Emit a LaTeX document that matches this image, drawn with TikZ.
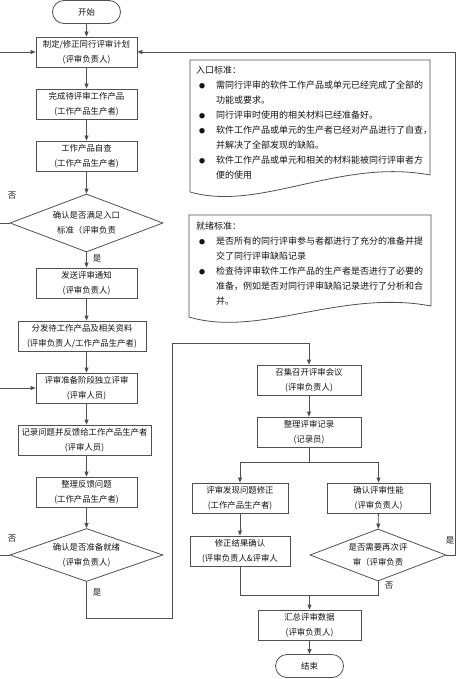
\documentclass[tikz,border=0pt]{standalone}
\usepackage{fontspec}
\newfontfamily\cjk{Noto Sans CJK SC}
\usetikzlibrary{shapes.geometric}
\usetikzlibrary{arrows.meta}

\definecolor{linegray}{RGB}{80,80,80}
\definecolor{textgray}{RGB}{20,20,20}

\newcommand{\notebul}{\hspace*{3pt}\makebox[17pt][l]{\raisebox{0.6pt}{\fontsize{6}{6}\selectfont ●}}}
\newcommand{\noteind}{\hspace*{20pt}}

\tikzset{
  flow/.style={draw=linegray, line width=0.8pt},
  stepbox/.style={draw=linegray, line width=0.8pt, text=textgray, font=\cjk\fontsize{8.4}{15}\selectfont, align=center, inner sep=0pt, minimum height=30pt},
  term/.style={draw=linegray, line width=0.8pt, text=textgray, font=\cjk\fontsize{8.4}{15}\selectfont, rounded corners=11.5pt, minimum width=68pt, minimum height=23pt, inner sep=0pt},
  decision/.style={diamond, shape aspect=3, draw=linegray, line width=0.8pt, text=textgray, font=\cjk\fontsize{8.4}{15}\selectfont, align=center, inner sep=0pt},
  notebox/.style={draw=linegray, line width=0.8pt},
  notetext/.style={text=textgray, font=\cjk\fontsize{9}{15}\selectfont, align=left, inner sep=0pt, anchor=north west},
  lab/.style={text=textgray, font=\cjk\fontsize{8.4}{10}\selectfont, inner sep=0pt},
}

\begin{document}
\begin{tikzpicture}[x=1pt, y=-1pt, >={Triangle[length=5pt, width=4pt]}]

  \clip (0,0) rectangle (474,679);

  % left column
  \node[term] (start) at (86.5,12) {开始};
  \node[stepbox, minimum width=101pt] (plan) at (86.5,52) {制定/修正同行评审计划\\(评审负责人)};
  \node[stepbox, minimum width=101pt] (prepare) at (86.5,104) {完成待评审工作产品\\(工作产品生产者)};
  \node[stepbox, minimum width=101pt] (selfcheck) at (86.5,156) {工作产品自查\\(工作产品生产者)};
  \node[decision, minimum width=153pt, minimum height=58pt] (entry) at (86.5,223) {确认是否满足入口\\标准（评审负责};
  \node[stepbox, minimum width=101pt] (notify) at (86.5,283) {发送评审通知\\(评审负责人)};
  \node[stepbox, minimum width=128pt] (distribute) at (82,336) {分发待工作产品及相关资料\\(评审负责人/工作产品生产者)};
  \node[stepbox, minimum width=101pt] (selfreview) at (86.5,388) {评审准备阶段独立评审\\(评审人员)};
  \node[stepbox, minimum width=133pt] (record) at (84.5,440) {记录问题并反馈给工作产品生产者\\(评审人员)};
  \node[stepbox, minimum width=101pt] (sortout) at (86.5,492) {整理反馈问题\\(工作产品生产者)};
  \node[decision, minimum width=153pt, minimum height=53pt] (ready) at (86.5,555) {确认是否准备就绪\\(评审负责人)};

  % right column
  \node[stepbox, minimum width=104pt] (meeting) at (309,380) {召集召开评审会议\\(评审负责人)};
  \node[stepbox, minimum width=104pt] (minutes) at (309,432) {整理评审记录\\(记录员)};
  \node[stepbox, minimum width=96pt] (fix) at (240,498) {评审发现问题修正\\(工作产品生产者)};
  \node[stepbox, minimum width=103pt] (perf) at (378.5,498) {确认评审性能\\(评审负责人)};
  \node[stepbox, minimum width=100pt] (verify) at (240,551) {修正结果确认\\(评审负责人\&评审人};
  \node[decision, minimum width=136pt, minimum height=52pt] (again) at (378,555) {是否需要再次评\\审（评审负责};
  \node[stepbox, minimum width=103pt] (summary) at (309.5,625) {汇总评审数据\\(评审负责人)};
  \node[term] (finish) at (309.5,666) {结束};

  % entry criteria note
  \draw[notebox] (190,60) -- (430,60) -- (430,175)
    .. controls (340,158) and (260,212) .. (190,192) -- cycle;
  \node[notetext] (entrynote) at (196,66) {入口标准：\\
    \notebul 需同行评审的软件工作产品或单元已经完成了全部的\\
    \noteind 功能或要求。\\
    \notebul 同行评审时使用的相关材料已经准备好。\\
    \notebul 软件工作产品或单元的生产者已经对产品进行了自查，\\
    \noteind 并解决了全部发现的缺陷。\\
    \notebul 软件工作产品或单元和相关的材料能被同行评审者方\\
    \noteind 便的使用};

  % ready criteria note
  \draw[notebox] (189,215) -- (431,215) -- (431,306)
    .. controls (341,289) and (259,338) .. (189,317) -- cycle;
  \node[notetext] (readynote) at (196,222) {就绪标准：\\
    \notebul 是否所有的同行评审参与者都进行了充分的准备并提\\
    \noteind 交了同行评审缺陷记录\\
    \notebul 检查待评审软件工作产品的生产者是否进行了必要的\\
    \noteind 准备，例如是否对同行评审缺陷记录进行了分析和合\\
    \noteind 并。};

  % main flow
  \draw[flow, ->] (start) to (plan);
  \draw[flow, ->] (plan) to (prepare);
  \draw[flow, ->] (prepare) to (selfcheck);
  \draw[flow, ->] (selfcheck) to (entry);
  \draw[flow, ->] (entry) to (notify);
  \draw[flow, ->] (notify.south) to (notify.south |- distribute.north);
  \draw[flow, ->] (selfreview.north |- distribute.south) to (selfreview.north);
  \draw[flow, ->] (selfreview.south) to (selfreview.south |- record.north);
  \draw[flow, ->] (sortout.north |- record.south) to (sortout.north);
  \draw[flow, ->] (sortout) to (ready);

  % loops back on the left
  \draw[flow, ->] (entry.west) -- ++(-20,0) |- (plan.west);
  \draw[flow, ->] (ready.west) -- ++(-20,0) |- (selfreview.west);

  % ready -> meeting
  \draw[flow, ->] (ready.south) -- ++(0,36) -| (172,343) -| (meeting.north);

  % meeting branch
  \draw[flow, ->] (meeting) to (minutes);
  \draw[flow] (minutes.south) -- ++(0,15) coordinate (split);
  \draw[flow, ->] (split) -| (fix.north);
  \draw[flow, ->] (split) -| (perf.north);
  \draw[flow, ->] (fix) to (verify);
  \draw[flow, ->] (perf) to (again);

  \coordinate (merge) at (309.5,595);
  \draw[flow] (verify.south) |- (merge);
  \draw[flow] (again.south) |- (merge);
  \draw[flow, ->] (merge) to (summary);
  \draw[flow, ->] (summary) to (finish);

  % review again -> plan
  \draw[flow, ->] (again.east) -- ++(9,0) |- (plan.east);

  % yes / no labels
  \node[lab] (no1) at (12,196) {否};
  \node[lab] (yes1) at (97,258) {是};
  \node[lab] (no2) at (12,539) {否};
  \node[lab] (yes2) at (97,592) {是};
  \node[lab] (yes3) at (450,540) {是};
  \node[lab] (no3) at (389,586) {否};

\end{tikzpicture}
\end{document}
